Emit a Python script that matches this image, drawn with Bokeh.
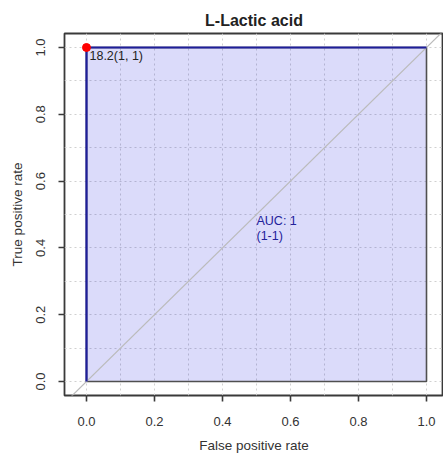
from bokeh.plotting import figure
from bokeh.models import FixedTicker, Range1d
from bokeh.core.properties import value
from bokeh.embed import file_html
from bokeh.resources import INLINE

title_text = "L-Lactic acid"
fpr = [0.0, 0.0, 1.0]
tpr = [0.0, 1.0, 1.0]
best_fpr = [0.0]
best_tpr = [1.0]
best_label = ["18.2(1, 1)"]
auc_lines = ["AUC: 1", "(1-1)"]
ticks = [0.0, 0.2, 0.4, 0.6, 0.8, 1.0]
grid_ticks = [i / 10 for i in range(11)]

FONT = "Liberation Sans"

p = figure(width=443, height=456, output_backend="svg", toolbar_location=None,
           x_range=Range1d(-0.0647, 1.05), y_range=Range1d(-0.0419, 1.0419),
           min_border_left=64, min_border_right=0, min_border_top=33, min_border_bottom=61)
p.background_fill_color = "white"
p.border_fill_color = "white"
p.outline_line_color = "#3A3A3A"
p.outline_line_width = 1.8

p.title.text = title_text
p.title.align = "center"
p.title.text_font = FONT
p.title.text_font_size = "16px"
p.title.text_font_style = "bold"
p.title.text_color = "#222222"

for ax in (p.xaxis[0], p.yaxis[0]):
    ax.ticker = FixedTicker(ticks=ticks)
    ax.minor_tick_line_color = None
    ax.axis_line_color = None
    ax.major_tick_in = 0
    ax.major_tick_out = 6
    ax.major_tick_line_color = "#3A3A3A"
    ax.major_tick_line_width = 1.6
    ax.major_label_text_font = FONT
    ax.major_label_text_font_size = "13px"
    ax.major_label_text_color = "#333333"
    ax.axis_label_text_font = FONT
    ax.axis_label_text_font_size = "13.5px"
    ax.axis_label_text_font_style = "normal"
    ax.axis_label_text_color = "#333333"
    ax.major_label_overrides = {t: f"{t:.1f}" for t in ticks}

p.xaxis.axis_label = "False positive rate"
p.yaxis.axis_label = "True positive rate"
p.yaxis.major_label_orientation = "vertical"
p.xaxis.major_label_standoff = 15
p.yaxis.major_label_standoff = 13
p.xaxis.axis_label_standoff = 9
p.yaxis.axis_label_standoff = 9

for g in (p.xgrid[0], p.ygrid[0]):
    g.ticker = FixedTicker(ticks=grid_ticks)
    g.grid_line_color = "#D0D0D0"
    g.grid_line_dash = "2 3"
    g.grid_line_width = 1

# AUC polygon (semi-transparent so the grid shows through)
poly_x = fpr + [1.0]
poly_y = tpr + [0.0]
p.patch(poly_x, poly_y, fill_color="#1010E0", fill_alpha=0.15,
        line_color="#505050", line_width=1.6)

# diagonal
p.line([-0.2, 1.2], [-0.2, 1.2], line_color="#BBBBBB", line_width=1.2)

# ROC curve
p.line(fpr, tpr, line_color="#1E1E9A", line_width=2.2)

# best threshold
p.scatter(best_fpr, best_tpr, size=8, color="#FF0000")
p.text(best_fpr, best_tpr, text=best_label, x_offset=3, y_offset=9,
       text_font=value(FONT), text_font_size="12.5px", text_color="#222222",
       text_baseline="middle", text_align="left")

# AUC text
p.text([0.5, 0.5], [0.48, 0.435], text=auc_lines,
       text_font=value(FONT), text_font_size="12.5px", text_color="#22229A",
       text_baseline="middle", text_align="left")

open("out.html", "w").write(file_html(p, INLINE))
